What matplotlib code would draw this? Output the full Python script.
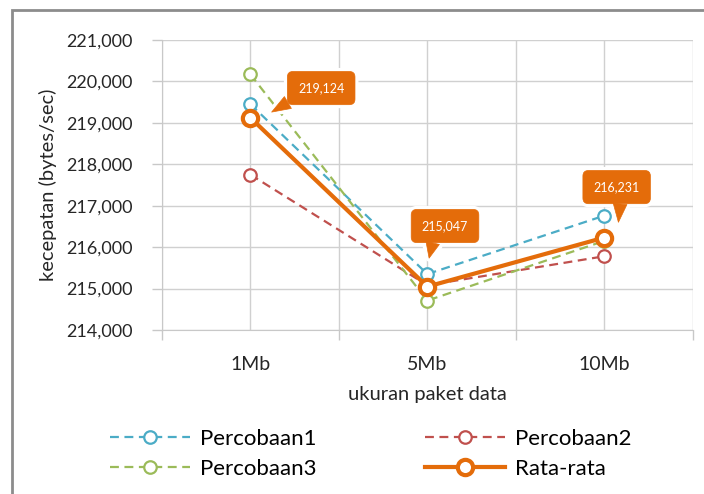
import matplotlib
matplotlib.use("Agg")
from matplotlib import pyplot as plt
from matplotlib.patches import Rectangle
from matplotlib.ticker import FixedLocator, FuncFormatter

categories = ["1Mb", "5Mb", "10Mb"]
percobaan1 = [219450, 215350, 216760]
percobaan2 = [217750, 215080, 215780]
percobaan3 = [220170, 214710, 216150]
rata_rata = [219124, 215047, 216231]
labels = ["219,124", "215,047", "216,231"]

plt.rcParams['font.family'] = ['Lato', 'DejaVu Sans']
ORANGE = "#E46C0A"
TXT = '#262626'

fig = plt.figure(figsize=(7.04, 4.94), dpi=100)
ax = fig.add_axes([0.230, 0.332, 0.754, 0.587])

x = list(range(len(categories)))
series = [
    ("Percobaan1", percobaan1, "#4BACC6"),
    ("Percobaan2", percobaan2, "#C0504D"),
    ("Percobaan3", percobaan3, "#9BBB59"),
]
handles = {}
for name, vals, col in series:
    handles[name], = ax.plot(x, vals, color=col, lw=1.6, ls=(0, (4, 2.5)),
                             marker='o', ms=9, mfc='white', mec=col, mew=1.6,
                             label=name, zorder=3)
handles["Rata-rata"], = ax.plot(x, rata_rata, color=ORANGE, lw=3, marker='o',
                                ms=11, mfc='white', mec=ORANGE, mew=3,
                                label="Rata-rata", zorder=4)

# callouts: (box x, box y, tip x, tip y, where the pointer leaves the box)
callouts = [(0.40, 219840, 0.12, 219260, (0.2, 0.25)),
            (1.10, 216510, 1.01, 215734, (0.3, 0.2)),
            (2.07, 217450, 2.08, 216600, (0.6, 0.2))]
for lab, (bx, by, tx, ty, rp) in zip(labels, callouts):
    for fc, ec, lw, z in [('white', 'white', 5, 5), (ORANGE, ORANGE, 0.5, 6)]:
        ax.annotate(lab, xy=(tx, ty), xytext=(bx, by), ha='center', va='center',
                    color='white', fontsize=9, zorder=z,
                    bbox=dict(boxstyle='round,pad=0.85,rounding_size=0.45',
                              fc=fc, ec=ec, lw=lw),
                    arrowprops=dict(arrowstyle='wedge,tail_width=1.1,shrink_factor=0.5',
                                    fc=fc, ec=ec, lw=lw, shrinkA=0, shrinkB=0,
                                    relpos=rp))

ax.set_xlim(-0.5, 2.5)
ax.set_ylim(214000, 221000)
ax.set_yticks(range(214000, 221001, 1000))
ax.yaxis.set_major_formatter(FuncFormatter(lambda v, p: f"{int(v):,}"))
ax.xaxis.set_major_locator(FixedLocator([-0.5, 0.5, 1.5, 2.5]))
ax.xaxis.set_major_formatter(FuncFormatter(lambda v, p: ""))
ax.set_xticks(x, categories, minor=True)
ax.tick_params(axis='x', which='minor', length=0, pad=19, labelsize=14, colors=TXT)
ax.tick_params(axis='x', which='major', length=7, color='#C8C8C8', width=1)
ax.tick_params(axis='y', length=7, width=1, labelsize=13, labelcolor=TXT,
               color='#C8C8C8', pad=14)
ax.grid(True, which='both', color='#D0D0D0', lw=1)
ax.set_axisbelow(True)
for s in ['top', 'right']:
    ax.spines[s].set_visible(False)
for s in ['left', 'bottom']:
    ax.spines[s].set_color('#C8C8C8')

ax.set_ylabel("kecepatan (bytes/sec)", fontsize=14.5, color=TXT, labelpad=7)
ax.set_xlabel("ukuran paket data", fontsize=14.5, color=TXT, labelpad=9)

order = ["Percobaan1", "Percobaan3", "Percobaan2", "Rata-rata"]
fig.legend([handles[n] for n in order], order, loc='center',
           bbox_to_anchor=(0.527, 0.081), ncol=2, frameon=False,
           fontsize=16, handlelength=3.6, handletextpad=0.45,
           columnspacing=4.9, labelspacing=0.44)

fig.patches.append(Rectangle((12 / 704, -0.1), 1.2, 1.1 - 10 / 494,
                             transform=fig.transFigure, fill=False,
                             ec='#8C8C8C', lw=2))

fig.savefig("out.png", dpi=100)
